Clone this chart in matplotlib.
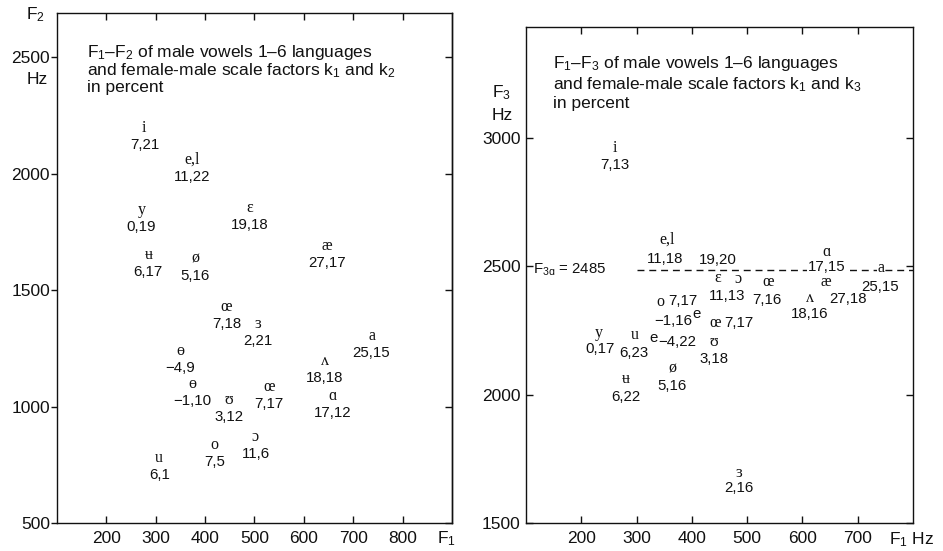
import matplotlib
matplotlib.use("Agg")
import matplotlib.pyplot as plt

W, H = 943, 551
plt.rcParams['font.family'] = ['Liberation Sans', 'DejaVu Sans']
plt.rcParams['mathtext.fontset'] = 'custom'
plt.rcParams['mathtext.rm'] = 'Liberation Sans'
plt.rcParams['mathtext.it'] = 'Liberation Sans:italic'
plt.rcParams['mathtext.bf'] = 'Liberation Sans:bold'

# ---- F1-F2 plane: vowel, F1 (Hz), F2 (Hz), scale factors k1, k2 (%) ----
f2_vowels = ['i', 'e,l', 'y', 'ɛ', 'ʉ', 'ø', 'æ', 'œ', 'ɜ', 'a',
             'ɵ', 'ʌ', 'ɵ', 'ʊ', 'œ', 'ɑ', 'ɔ', 'o', 'u']
f2_f1 = [277, 374, 271, 490, 285, 380, 646, 443, 506, 737,
         350, 642, 374, 448, 530, 658, 502, 419, 307]
f2_f2 = [2196, 2059, 1844, 1853, 1651, 1634, 1690, 1429, 1356, 1304,
         1240, 1197, 1099, 1030, 1086, 1047, 871, 837, 781]
f2_k1 = [7, 11, 0, 19, 6, 5, 27, 7, 2, 25, -4, 18, -1, 3, 7, 17, 11, 7, 6]
f2_k2 = [21, 22, 19, 18, 17, 16, 17, 18, 21, 15, 9, 18, 10, 12, 17, 12, 6, 5, 1]

# ---- F1-F3 plane: vowel, F1 (Hz), F3 (Hz), scale factors k1, k3 (%) ----
f3_vowels = ['i', 'e,l', 'ɛ', 'ɔ', 'œ', 'ɑ', 'a', 'æ', 'ʌ', 'o',
             'e', 'œ', 'y', 'u', 'e', 'ʊ', 'ø', 'ʉ', 'ɜ']
f3_f1 = [261, 355, 447, 483, 538, 644, 742, 642, 613, 343,
         409, 442, 232, 297, 330, 440, 364, 281, 485]
f3_f3 = [2961, 2603, 2455, 2451, 2436, 2553, 2494, 2436, 2377, 2358,
         2315, 2280, 2241, 2233, 2218, 2206, 2101, 2062, 1693]
f3_k1 = [7, 11, 19, 11, 7, 17, 25, 27, 18, 7, -1, 7, 0, 6, -4, 3, 5, 6, 2]
f3_k3 = [13, 18, 20, 13, 16, 15, 15, 18, 16, 17, 16, 17, 17, 23, 22, 18, 16, 22, 16]

F3_ref = 2485

left_xticks = [200, 300, 400, 500, 600, 700, 800]
left_yticks = [500, 1000, 1500, 2000, 2500]
right_xticks = [200, 300, 400, 500, 600, 700]
right_yticks = [1500, 2000, 2500, 3000]

# placement of the k-label relative to its vowel symbol: (dx px, dy px down, ha)
f2_layout = [(0, 17, 'center')] * len(f2_vowels)
f3_layout = [(0, 17, 'center'), (-2, 19, 'center'), (0, -18, 'center'),
             (-11, 17, 'center'), (-1, 18, 'center'), (0, 15, 'center'),
             (-1, 19, 'center'), (22, 17, 'center'), (0, 16, 'center'),
             (8, -1, 'left'), (-5, 7, 'right'), (9, 0, 'left'),
             (1, 16, 'center'), (-1, 18, 'center'), (5, 4, 'left'),
             (0, 17, 'center'), (0, 17, 'center'), (0, 18, 'center'),
             (0, 15, 'center')]
# labels that sit on the reference line and mask it
f3_masked = {5, 6}

SERIF = ['Liberation Serif', 'DejaVu Serif']
SANS = ['Liberation Sans', 'DejaVu Sans']
NUM_SIZE = 10.8
SYM_SIZE = 11.5
TICK_SIZE = 12.5
TITLE_SIZE = 12.5
INK = '#111111'


def kstr(a, b):
    s = f"{abs(a)},{b}"
    return ("\u2212" + s) if a < 0 else s


def figxy(x, y):
    return x / W, 1 - y / H


fig = plt.figure(figsize=(W / 100, H / 100), dpi=100)


def make_axes(x0, y0, x1, y1):
    ax = fig.add_axes([x0 / W, 1 - y1 / H, (x1 - x0) / W, (y1 - y0) / H])
    for s in ax.spines.values():
        s.set_linewidth(1.0)
        s.set_color(INK)
    return ax


def draw_labels(ax, vowels, xs, ys, k1, k2, layout, masked=()):
    for j, (v, x, y, a, b, (dx, dy, ha)) in enumerate(
            zip(vowels, xs, ys, k1, k2, layout)):
        fam = SANS if v == 'e' else SERIF
        size = NUM_SIZE if v == 'e' else SYM_SIZE
        box = dict(facecolor='white', edgecolor='none', pad=0.5) if j in masked else None
        ax.annotate(v, (x, y), ha='center', va='center', family=fam,
                    fontsize=size, color=INK, bbox=box)
        ax.annotate(kstr(a, b), (x, y), xytext=(dx, -dy),
                    textcoords='offset pixels', ha=ha, va='center',
                    fontsize=NUM_SIZE, color=INK, bbox=box)


# ---------------- left panel ----------------
axL = make_axes(57, 13, 452, 523)
axL.set_xlim(100, 900)
axL.set_ylim(500, 2690)
axL.set_xticks(left_xticks)
axL.set_yticks(left_yticks)
axL.tick_params(axis='x', direction='in', top=True, length=5, width=1,
                labelsize=TICK_SIZE, pad=6, colors=INK)
axL.tick_params(axis='y', direction='out', length=4, width=1,
                labelsize=TICK_SIZE, pad=1, colors=INK)
secL = axL.secondary_yaxis('right')
secL.set_yticks(left_yticks)
secL.tick_params(direction='in', length=5, width=1, labelright=False, colors=INK)
secL.spines['right'].set_linewidth(1.0)
secL.spines['right'].set_color(INK)

draw_labels(axL, f2_vowels, f2_f1, f2_f2, f2_k1, f2_k2, f2_layout)

# multi-line block: the baseline anchor refers to its last line
fig.text(*figxy(87, 92),
         "F$_1$\u2013F$_2$ of male vowels 1\u20136 languages\n"
         "and female-male scale factors k$_1$ and k$_2$\n"
         "in percent",
         ha='left', va='baseline', fontsize=TITLE_SIZE, linespacing=0.97,
         color=INK)

fig.text(*figxy(35, 15), "F$_2$", ha='center', va='center', fontsize=TICK_SIZE, color=INK)
fig.text(*figxy(37, 80), "Hz", ha='center', va='center', fontsize=TICK_SIZE, color=INK)
fig.text(*figxy(446, 539), "F$_1$", ha='center', va='center', fontsize=TICK_SIZE, color=INK)

# ---------------- right panel ----------------
axR = make_axes(526, 27, 913, 523)
axR.set_xlim(100, 800)
axR.set_ylim(1500, 3430)
axR.set_xticks(right_xticks)
axR.set_yticks(right_yticks)
axR.tick_params(axis='both', direction='in', top=True, right=True, length=5,
                width=1, labelsize=TICK_SIZE, colors=INK)
axR.tick_params(axis='x', pad=6)
axR.tick_params(axis='y', pad=4)

axR.hlines(F3_ref, 300, 800, colors=INK, linewidth=1.0,
           linestyles=(0, (5, 3.5)), zorder=1)
axR.annotate("F$_{\\mathrm{3\u0251}}$ = " + str(F3_ref), (100, F3_ref),
             xytext=(7, 0), textcoords='offset pixels', ha='left',
             va='center', fontsize=NUM_SIZE, color=INK)

draw_labels(axR, f3_vowels, f3_f1, f3_f3, f3_k1, f3_k3, f3_layout, f3_masked)

fig.text(*figxy(553, 108),
         "F$_1$\u2013F$_3$ of male vowels 1\u20136 languages\n"
         "and female-male scale factors k$_1$ and k$_3$\n"
         "in percent",
         ha='left', va='baseline', fontsize=TITLE_SIZE, linespacing=1.15,
         color=INK)

fig.text(*figxy(502, 93), "F$_3$", ha='center', va='center', fontsize=TICK_SIZE, color=INK)
fig.text(*figxy(502, 115), "Hz", ha='center', va='center', fontsize=TICK_SIZE, color=INK)
fig.text(*figxy(912, 540), "F$_1$ Hz", ha='center', va='center', fontsize=TICK_SIZE, color=INK)

fig.savefig("out.png", dpi=100)
